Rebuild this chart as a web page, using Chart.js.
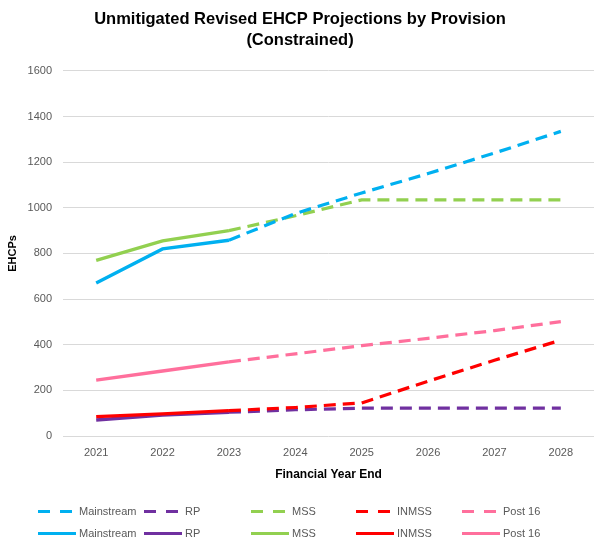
<!DOCTYPE html>
<html>
<head>
<meta charset="utf-8">
<script src="https://cdn.jsdelivr.net/npm/chart.js@4"></script>
<style>
  html, body { margin: 0; padding: 0; background: #ffffff; }
  #wrap { width: 594px; height: 544px; }
</style>
</head>
<body>
<div id="wrap"><canvas id="c" width="594" height="544"></canvas></div>
<script>
const years = ['2021', '2022', '2023', '2024', '2025', '2026', '2027', '2028'];
const yTicks = [0, 200, 400, 600, 800, 1000, 1200, 1400, 1600];

const mainstreamProj = [null, null, 858, 975, 1065, 1150, 1240, 1335];
const rpProj         = [null, null, 104, 115, 122, 122, 122, 122];
const mssProj        = [null, null, 900, 965, 1035, 1035, 1035, 1035];
const inmssProj      = [null, null, 111, 125, 145, 240, 332, 420];
const post16Proj     = [null, null, 325, 360, 396, 428, 462, 501];

const mainstreamActual = [670, 820, 858, null, null, null, null, null];
const rpActual         = [70, 92, 104, null, null, null, null, null];
const mssActual        = [770, 855, 900, null, null, null, null, null];
const inmssActual      = [85, 97, 111, null, null, null, null, null];
const post16Actual     = [245, 285, 325, null, null, null, null, null];

const seriesNames = ['Mainstream', 'RP', 'MSS', 'INMSS', 'Post 16'];
const colors = ['#00B0F0', '#7030A0', '#92D050', '#FF0000', '#FF6F9C'];
const projData = [mainstreamProj, rpProj, mssProj, inmssProj, post16Proj];
const actualData = [mainstreamActual, rpActual, mssActual, inmssActual, post16Actual];

const DASH = [12, 7];
const drawOrder = [3, 6, 4, 1, 5]; // smaller = on top

const datasets = [];
seriesNames.forEach((n, i) => {
  datasets.push({
    label: n, data: projData[i], borderColor: colors[i], backgroundColor: colors[i],
    borderWidth: 3.2, borderDash: DASH, pointRadius: 0, tension: 0, fill: false,
    order: drawOrder[i] + 10, _dashed: true
  });
});
seriesNames.forEach((n, i) => {
  datasets.push({
    label: n, data: actualData[i], borderColor: colors[i], backgroundColor: colors[i],
    borderWidth: 3.4, pointRadius: 0, tension: 0, fill: false,
    order: drawOrder[i], _dashed: false
  });
});

const FONT = "'Liberation Sans', Arial, sans-serif";

const legendPlugin = {
  id: 'fixedLegend',
  afterDraw(chart) {
    const ctx = chart.ctx;
    const cols = [38, 144, 251, 356, 462];
    const rows = [511.5, 533.5];
    const markLen = 38;
    ctx.save();
    chart.data.datasets.forEach((ds, idx) => {
      const r = ds._dashed ? 0 : 1;
      const c = idx % 5;
      const x = cols[c], y = rows[r];
      ctx.beginPath();
      ctx.strokeStyle = ds.borderColor;
      ctx.lineWidth = 3;
      ctx.lineCap = 'butt';
      ctx.setLineDash(ds._dashed ? [12, 10] : []);
      ctx.moveTo(x, y);
      ctx.lineTo(x + markLen, y);
      ctx.stroke();
      ctx.setLineDash([]);
      ctx.fillStyle = '#595959';
      ctx.font = '11px ' + FONT;
      ctx.textBaseline = 'middle';
      ctx.textAlign = 'left';
      ctx.fillText(ds.label, x + markLen + 3, y + 0.5);
    });
    ctx.restore();
  }
};

new Chart(document.getElementById('c'), {
  type: 'line',
  data: { labels: years, datasets },
  plugins: [legendPlugin],
  options: {
    responsive: false,
    animation: false,
    devicePixelRatio: 1,
    layout: { padding: { left: 6, right: 0, top: 0, bottom: 62 } },
    plugins: {
      legend: { display: false },
      tooltip: { enabled: false },
      title: {
        display: true,
        text: ['Unmitigated Revised EHCP Projections by Provision', '(Constrained)'],
        color: '#000000',
        font: { family: FONT, size: 16.5, weight: 'bold', lineHeight: 1.33 },
        padding: { top: 8, bottom: 19 }
      }
    },
    scales: {
      x: {
        offset: true,
        afterFit(axis) { axis.height = 46; },
        grid: { display: false, drawTicks: false },
        border: { display: false },
        ticks: { color: '#595959', font: { family: FONT, size: 11 }, padding: 10, maxRotation: 0 },
        title: {
          display: true, text: 'Financial Year End', color: '#000000',
          font: { family: FONT, size: 12, weight: 'bold' },
          padding: { top: 0, bottom: 0 }
        }
      },
      y: {
        min: 0, max: 1600,
        afterBuildTicks(axis) { axis.ticks = yTicks.map(v => ({ value: v })); },
        afterFit(axis) { axis.width = 57; },
        grid: { color: '#D9D9D9', lineWidth: 1, drawTicks: false },
        border: { display: false },
        ticks: {
          color: '#595959', font: { family: FONT, size: 11 }, padding: 11,
          callback: (v) => String(v)
        },
        title: {
          display: true, text: 'EHCPs', color: '#000000',
          font: { family: FONT, size: 11, weight: 'bold' },
          padding: { top: 0, bottom: 0 }
        }
      }
    }
  }
});
</script>
</body>
</html>
